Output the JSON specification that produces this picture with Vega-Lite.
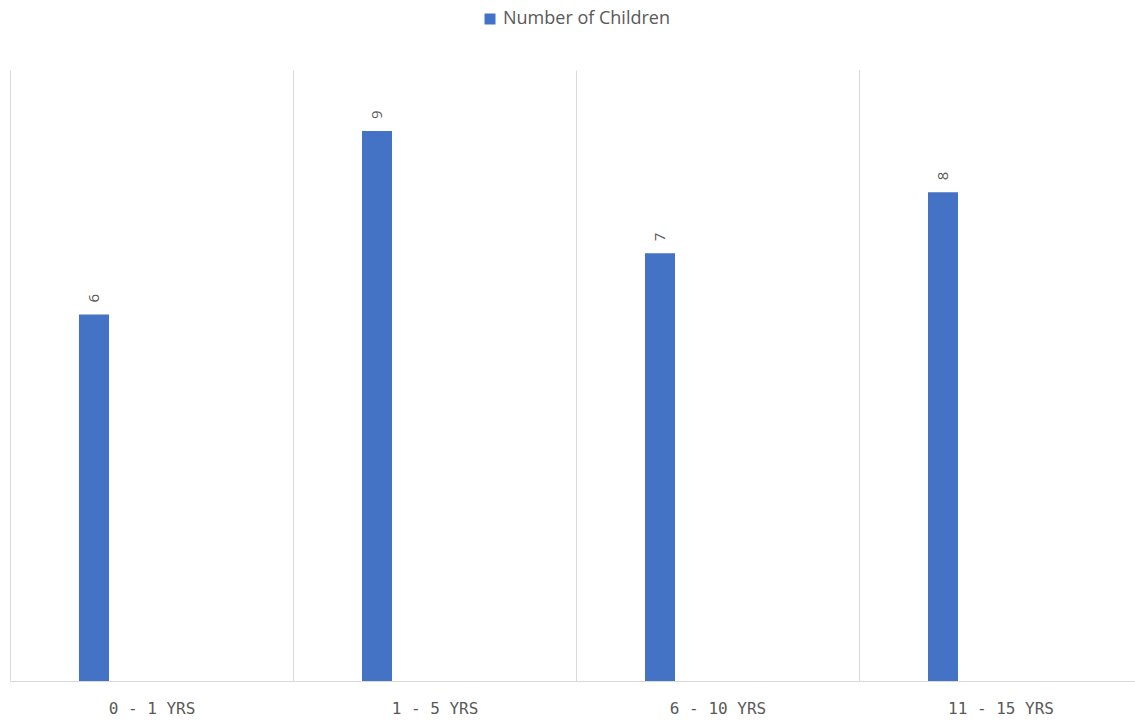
{
  "$schema": "https://vega.github.io/schema/vega-lite/v6.json",
  "width": 1125,
  "height": 611,
  "autosize": {"type": "none"},
  "padding": {"left": 10, "top": 70, "right": 0, "bottom": 42},
  "background": "white",
  "config": {"view": {"stroke": null}},
  "data": {
    "values": [
      {"age": "0 - 1 YRS", "series": "Number of Children", "count": 6},
      {"age": "1 - 5 YRS", "series": "Number of Children", "count": 9},
      {"age": "6 - 10 YRS", "series": "Number of Children", "count": 7},
      {"age": "11 - 15 YRS", "series": "Number of Children", "count": 8}
    ]
  },
  "encoding": {
    "x": {
      "field": "age",
      "type": "nominal",
      "sort": null,
      "scale": {"range": [0, 1132], "paddingInner": 0, "paddingOuter": 0},
      "axis": {
        "title": null,
        "labelAngle": 0,
        "ticks": false,
        "grid": true,
        "tickBand": "extent",
        "gridColor": "#D9D9D9",
        "gridWidth": 1,
        "domainColor": "#D9D9D9",
        "domainWidth": 1,
        "labelFont": "DejaVu Sans Mono",
        "labelFontSize": 16,
        "labelColor": "#595959",
        "labelPadding": 19
      }
    },
    "xOffset": {
      "field": "series",
      "type": "nominal",
      "scale": {"paddingInner": 0.7628, "paddingOuter": 1, "align": 0.2727}
    },
    "y": {
      "field": "count",
      "type": "quantitative",
      "scale": {"domain": [0, 10]},
      "axis": null
    }
  },
  "layer": [
    {
      "mark": {"type": "bar"},
      "encoding": {
        "color": {
          "field": "series",
          "type": "nominal",
          "scale": {"range": ["#4472C4"]},
          "legend": {
            "title": null,
            "orient": "none",
            "legendX": 471,
            "legendY": -60,
            "direction": "horizontal",
            "padding": 0,
            "symbolType": "square",
            "symbolSize": 121,
            "symbolStrokeWidth": 0,
            "labelFont": "Open Sans",
            "labelFontSize": 18,
            "labelColor": "#595959",
            "labelOffset": 4,
            "labelLimit": 400
          }
        }
      }
    },
    {
      "mark": {
        "type": "text",
        "angle": 270,
        "align": "left",
        "baseline": "middle",
        "dx": 12,
        "font": "Open Sans",
        "fontSize": 15,
        "color": "#595959"
      },
      "encoding": {"text": {"field": "count", "type": "quantitative"}}
    }
  ]
}
